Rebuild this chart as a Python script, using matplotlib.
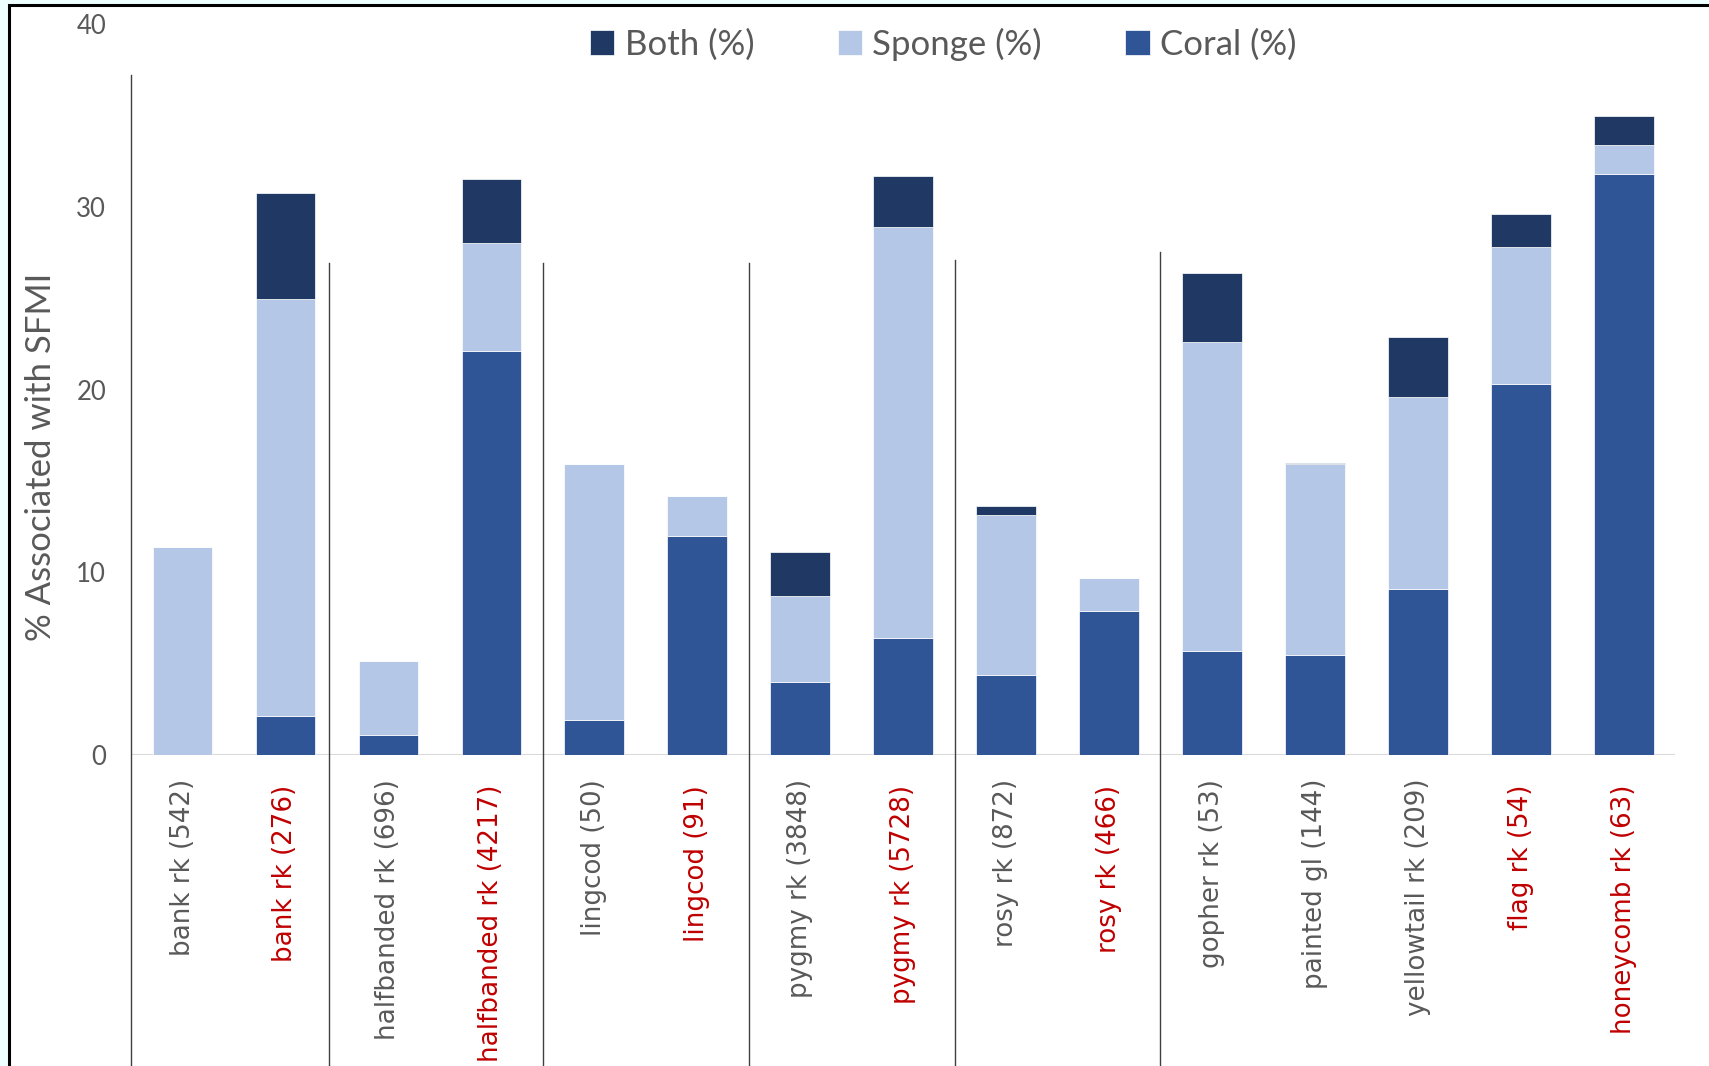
import matplotlib.pyplot as plt
from matplotlib.patches import Rectangle
import numpy as np

# rockfish species (sample size); red = second group of each pair
species = ["bank rk (542)", "bank rk (276)", "halfbanded rk (696)", "halfbanded rk (4217)",
           "lingcod (50)", "lingcod (91)", "pygmy rk (3848)", "pygmy rk (5728)",
           "rosy rk (872)", "rosy rk (466)", "gopher rk (53)", "painted gl (144)",
           "yellowtail rk (209)", "flag rk (54)", "honeycomb rk (63)"]
highlight = [False, True, False, True, False, True, False, True,
             False, True, False, False, False, True, True]

coral = [0.0, 2.15, 1.1, 22.1, 1.9, 12.0, 4.0, 6.4, 4.4, 7.9, 5.7, 5.5, 9.1, 20.3, 31.8]
sponge = [11.4, 22.8, 4.05, 5.9, 14.0, 2.2, 4.7, 22.5, 8.75, 1.8, 16.9, 10.4, 10.5, 7.5, 1.6]
both = [0.0, 5.8, 0.0, 3.5, 0.0, 0.0, 2.4, 2.8, 0.5, 0.0, 3.8, 0.1, 3.3, 1.8, 1.55]

# group dividers (between-bar positions) and how high each one reaches
divider_x = [-0.5, 1.42, 3.5, 5.5, 7.5, 9.5]
divider_top = [37.2, 26.9, 26.9, 26.9, 27.1, 27.5]

c_coral = "#2F5597"
c_sponge = "#B4C7E7"
c_both = "#203864"
grey = "#595959"
red = "#C00000"

fig = plt.figure(figsize=(17.09, 10.66), dpi=100)
fig.patch.set_facecolor("#EEFFFF")
fig.patches.append(Rectangle((9 / 1709, -0.1), 1.1, 1.1 - 5 / 1066, transform=fig.transFigure,
                             facecolor="white", edgecolor="black", linewidth=2.2, zorder=-10))

ax = fig.add_axes([0.0767, 0.2917, 0.9035, 0.6858])
ax.set_facecolor("none")

x = np.arange(len(species))
w = 0.58
coral = np.array(coral)
sponge = np.array(sponge)
both = np.array(both)
b1 = ax.bar(x, coral, w, color=c_coral, edgecolor="white", linewidth=0.5, label="Coral (%)", zorder=3)
b2 = ax.bar(x, sponge, w, bottom=coral, color=c_sponge, edgecolor="white", linewidth=0.5,
            label="Sponge (%)", zorder=3)
b3 = ax.bar(x, both, w, bottom=coral + sponge, color=c_both, edgecolor="white", linewidth=0.5,
            label="Both (%)", zorder=3)

ax.set_xlim(-0.5, 14.5)
ax.set_ylim(0, 40)
ax.set_yticks([0, 10, 20, 30, 40])
for s in ax.spines.values():
    s.set_visible(False)
ax.axhline(0, color="#D9D9D9", linewidth=1.5, zorder=2)

ax.tick_params(axis="y", length=0, pad=18, labelsize=18.5, labelcolor=grey)
for t in ax.get_yticklabels():
    t.set_family("Lato")

# category names hang under each bar; the red ones sit a little lower
ax.set_xticks([])
for xi, name, hl in zip(x, species, highlight):
    drop = -21.5 if hl else -17
    ax.annotate(name, xy=(xi, 0), xytext=(0, drop), textcoords="offset points",
                rotation=90, ha="center", va="top", fontsize=18.8, family="DejaVu Sans",
                color=red if hl else grey, annotation_clip=False)

ax.set_ylabel("% Associated with SFMI", fontsize=25, color=grey, family="Lato")
ax.yaxis.set_label_coords(-0.048, 0.408)

# thin dividers running from the plot down through the label area
for dx, dt in zip(divider_x, divider_top):
    ax.plot([dx, dx], [dt, -20], color="#404040", linewidth=1.0, clip_on=False, zorder=4)

fig.legend([b3, b2, b1], ["Both (%)", "Sponge (%)", "Coral (%)"], loc="center",
           bbox_to_anchor=(0.552, 0.9587), ncol=3, frameon=False,
           handlelength=0.7, handleheight=0.7, handletextpad=0.3, columnspacing=2.4,
           prop={"family": "Lato", "size": 25}, labelcolor=grey)

fig.savefig("out.png", dpi=100, facecolor=fig.get_facecolor())
